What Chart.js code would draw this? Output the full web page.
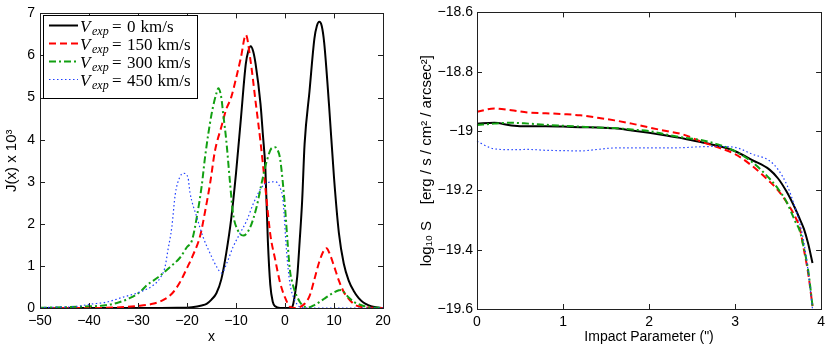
<!DOCTYPE html>
<html>
<head>
<meta charset="utf-8">
<script src="https://cdn.jsdelivr.net/npm/chart.js@4.4.0/dist/chart.umd.min.js"></script>
<style>
body { margin: 0; background: #fff; }
#wrap { position: relative; width: 830px; height: 348px; }
canvas { position: absolute; top: 0; }
</style>
</head>
<body>
<div id="wrap">
  <canvas id="left" width="415" height="348" style="left:0"></canvas>
  <canvas id="right" width="415" height="348" style="left:415px"></canvas>
</div>
<script>
// expansion velocities (km/s), one curve each
const speeds = [0, 150, 300, 450];

// left panel: J(x) x 10^3 against x
const jx0 = [-50,-30,-22,-19,-17,-16,-15,-14,-13,-12,-11,-10,-9,-8,-7.5,-7,-6.5,-6,-5,-4.5,-4,-3.5,-3,-2.5,-2,-1,0,1,1.5,2,2.5,3,3.5,4,5,6,6.5,7,7.5,8,9,10,11,12,13,14,15,16,17,18,20];
const jy0 = [0,0,0.005,0.02,0.06,0.1,0.2,0.35,0.68,1.3,2.1,3.2,4.5,5.8,6.1,6.22,6.1,5.8,4.85,4.1,3.3,1.6,0.55,0.15,0.04,0,0,0,0.03,0.3,0.75,1.6,2.55,3.9,5.15,6.4,6.7,6.8,6.7,6.3,4.8,3.1,1.78,1.05,0.65,0.41,0.24,0.13,0.07,0.03,0];

const jx150 = [-50,-40,-35,-30,-27,-25,-23,-21.5,-20,-18.8,-17.3,-16.3,-15.3,-14.3,-13,-12,-11,-10,-9,-8,-7,-6,-5,-4,-3,-2,-1,0,1,2,3,4,5,6,7,8,8.5,9,10,11,12,13,14,15,17,20];
const jy150 = [0,0,0.01,0.05,0.1,0.18,0.35,0.6,0.95,1.25,1.72,2.3,2.95,3.73,4.3,4.72,5.0,5.45,5.95,6.49,5.85,4.9,3.95,2.85,1.75,1.15,0.6,0.25,0.03,0,0.02,0.1,0.28,0.68,1.1,1.38,1.42,1.32,1.0,0.65,0.38,0.22,0.1,0.04,0.01,0];

const jx300 = [-50,-44.5,-40,-37.8,-34.3,-31.6,-29.6,-28.2,-25.9,-23.5,-21.4,-20,-19,-18,-17,-16.3,-15,-14,-13.6,-13,-12.6,-12,-11.2,-10.6,-9.6,-8.5,-7.1,-5.8,-4.8,-3.7,-2.7,-2,-1.5,-1,0,0.5,1,1.5,2,3,4,5,6,7,8,9,10,11,11.5,12,13,14,15,17,20];
const jy300 = [0.005,0.02,0.04,0.05,0.12,0.24,0.38,0.54,0.73,0.97,1.2,1.45,1.6,2.16,2.9,3.6,4.6,5.1,5.22,5.0,4.6,4.0,2.95,2.24,1.84,1.72,1.92,2.4,2.95,3.5,3.8,3.82,3.75,3.55,2.4,1.6,0.9,0.6,0.4,0.15,0.03,0.02,0.07,0.14,0.22,0.3,0.37,0.42,0.43,0.38,0.25,0.15,0.09,0.02,0];

const jx450 = [-50,-46.5,-43,-39.8,-36.4,-33,-29.6,-26.9,-25.5,-24.5,-23.9,-23.1,-22.4,-21.5,-20.7,-19.8,-19.4,-18,-16.7,-15.3,-13.9,-12.9,-11.9,-10.6,-9.2,-7.8,-6.5,-4.8,-3.5,-2,-1,-0.4,0.3,1,2,3.1,5,20];
const jy450 = [0.01,0.02,0.03,0.09,0.14,0.26,0.38,0.54,0.71,0.97,1.37,1.92,2.7,3.1,3.2,3.1,2.75,2.16,1.68,1.3,0.97,0.83,1.06,1.45,1.77,2.08,2.47,2.86,2.98,3.0,2.86,2.55,1.37,0.59,0.19,0.02,0,0];

// right panel: log10 S against impact parameter (")
const impact = [0,0.2,0.4,0.6,0.8,1.0,1.2,1.4,1.6,1.8,2.0,2.2,2.4,2.6,2.8,3.0,3.2,3.4,3.5,3.6,3.7,3.75,3.8,3.85,3.9];
const logS0   = [-18.975,-18.972,-18.981,-18.984,-18.984,-18.985,-18.987,-18.988,-18.991,-18.998,-19.006,-19.015,-19.025,-19.037,-19.05,-19.068,-19.098,-19.13,-19.16,-19.205,-19.262,-19.295,-19.33,-19.38,-19.445];
const logS150 = [-18.935,-18.924,-18.93,-18.938,-18.94,-18.943,-18.947,-18.955,-18.964,-18.975,-18.988,-19.0,-19.012,-19.035,-19.055,-19.078,-19.118,-19.17,-19.2,-19.24,-19.29,-19.325,-19.4,-19.48,-19.59];
const logS300 = [-18.98,-18.975,-18.972,-18.975,-18.979,-18.982,-18.985,-18.988,-18.99,-18.995,-19.0,-19.012,-19.022,-19.03,-19.045,-19.068,-19.105,-19.16,-19.195,-19.24,-19.305,-19.335,-19.395,-19.47,-19.59];
const logS450 = [-19.035,-19.06,-19.063,-19.062,-19.065,-19.066,-19.067,-19.062,-19.057,-19.057,-19.057,-19.057,-19.056,-19.053,-19.052,-19.055,-19.078,-19.1,-19.13,-19.18,-19.26,-19.31,-19.375,-19.475,-19.6];

const xTicksLeft = [-50,-40,-30,-20,-10,0,10,20];

const styles = [
  { color: '#000000', width: 2, dash: [] },
  { color: '#ff0000', width: 2, dash: [7, 4] },
  { color: '#12a012', width: 2, dash: [7, 3, 2, 3] },
  { color: '#2040ff', width: 1.2, dash: [1.5, 2.5] }
];

const minus = s => String(s).replace('-', '\u2212');
const pts = (xs, ys) => xs.map((x, i) => ({ x: x, y: ys[i] }));

function makeSets(pairs) {
  return pairs.map((p, i) => ({
    data: pts(p[0], p[1]),
    speed: speeds[i],
    borderColor: styles[i].color,
    borderWidth: styles[i].width,
    borderDash: styles[i].dash,
    pointRadius: 0,
    cubicInterpolationMode: 'monotone',
    fill: false,
    clip: 4,
    order: 3 - i
  }));
}

// box round the plot + inward ticks on all four sides
const framePlugin = {
  id: 'frame',
  afterDatasetsDraw(chart) {
    const { ctx, chartArea: a, scales } = chart;
    ctx.save();
    ctx.strokeStyle = '#202020';
    ctx.lineWidth = 1;
    ctx.setLineDash([]);
    ctx.strokeRect(Math.round(a.left) + 0.5, Math.round(a.top) + 0.5, Math.round(a.right - a.left), Math.round(a.bottom - a.top));
    ctx.beginPath();
    scales.x.ticks.forEach(t => {
      const px = Math.round(scales.x.getPixelForValue(t.value)) + 0.5;
      ctx.moveTo(px, a.bottom); ctx.lineTo(px, a.bottom - 5);
      ctx.moveTo(px, a.top); ctx.lineTo(px, a.top + 5);
    });
    scales.y.ticks.forEach(t => {
      const py = Math.round(scales.y.getPixelForValue(t.value)) + 0.5;
      ctx.moveTo(a.left, py); ctx.lineTo(a.left + 5, py);
      ctx.moveTo(a.right, py); ctx.lineTo(a.right - 5, py);
    });
    ctx.stroke();
    ctx.restore();
  }
};

// MATLAB-like legend with V_exp subscripts
const legendPlugin = {
  id: 'vlegend',
  afterDraw(chart) {
    const o = chart.options.plugins.vlegend;
    if (!o || !o.show) return;
    const ctx = chart.ctx;
    const x0 = 43, y0 = 15, w = 154, h = 83;
    ctx.save();
    ctx.fillStyle = '#fff';
    ctx.fillRect(x0, y0, w, h);
    ctx.strokeStyle = '#000';
    ctx.lineWidth = 1;
    ctx.strokeRect(x0 + 0.5, y0 + 0.5, w, h);
    chart.data.datasets.forEach((ds, i) => {
      const y = y0 + 10.5 + i * 18;
      ctx.beginPath();
      ctx.setLineDash(ds.borderDash);
      ctx.strokeStyle = ds.borderColor;
      ctx.lineWidth = ds.borderWidth;
      ctx.moveTo(x0 + 6, y); ctx.lineTo(x0 + 35, y);
      ctx.stroke();
      ctx.setLineDash([]);
      ctx.fillStyle = '#000';
      ctx.textBaseline = 'alphabetic';
      const base = y + 6;
      ctx.font = 'italic 17px "Liberation Serif"';
      ctx.fillText('V', x0 + 37, base);
      ctx.font = 'italic 12px "Liberation Serif"';
      ctx.fillText('exp', x0 + 49, base + 3);
      ctx.font = '17px "Liberation Serif"';
      ctx.fillText('=', x0 + 69, base);
      let tx = x0 + 84;
      ctx.fillText(String(ds.speed), tx, base);
      tx += ctx.measureText(String(ds.speed)).width + 5;
      ctx.fillText('km/s', tx, base);
    });
    ctx.restore();
  }
};

const tickFont = { family: '"Liberation Sans", Arial, sans-serif', size: 14 };
const yTitleFont = { family: '"Liberation Sans", Arial, sans-serif', size: 15 };

function axis(min, max, step, fmt, title, fitSize, horiz, pad, titlePad) {
  return {
    type: 'linear',
    min: min, max: max,
    grid: { display: false, drawTicks: false },
    border: { display: false },
    ticks: { stepSize: step, color: '#000', font: tickFont, padding: pad, callback: fmt, maxRotation: 0, autoSkip: false },
    title: { display: true, text: title, color: '#000', font: horiz ? tickFont : yTitleFont, padding: titlePad },
    afterFit(s) { if (horiz) s.height = fitSize; else s.width = fitSize; }
  };
}

Chart.defaults.animation = false;

new Chart(document.getElementById('left'), {
  type: 'line',
  data: { datasets: makeSets([[jx0, jy0], [jx150, jy150], [jx300, jy300], [jx450, jy450]]) },
  options: {
    responsive: false,
    devicePixelRatio: 1,
    layout: { padding: { top: 12, right: 32, left: 0, bottom: 0 } },
    plugins: { legend: { display: false }, tooltip: { enabled: false }, vlegend: { show: true } },
    scales: {
      x: Object.assign(axis(-50, 20, 10, v => minus(v), 'x', 40, true, 5, { top: 0, bottom: 2 }),
        { afterBuildTicks(s) { s.ticks = xTicksLeft.map(v => ({ value: v })); } }),
      y: axis(0, 7, 1, v => String(v), 'J(x) x 10\u00b3', 40, false, 5, { top: 3, bottom: 0 })
    }
  },
  plugins: [framePlugin, legendPlugin]
});

new Chart(document.getElementById('right'), {
  type: 'line',
  data: { datasets: makeSets([[impact, logS0], [impact, logS150], [impact, logS300], [impact, logS450]]) },
  options: {
    responsive: false,
    devicePixelRatio: 1,
    layout: { padding: { top: 12, right: 8, left: 0, bottom: 0 } },
    plugins: { legend: { display: false }, tooltip: { enabled: false } },
    scales: {
      x: axis(0, 4, 1, v => String(v), 'Impact Parameter (")', 39, true, 5, { top: 0, bottom: 2 }),
      y: axis(-19.6, -18.6, 0.2, v => minus(Number(v.toFixed(1))), 'log\u2081\u2080 S    [erg / s / cm\u00b2 / arcsec\u00b2]', 62, false, 4, { top: 3, bottom: 0 })
    }
  },
  plugins: [framePlugin]
});
</script>
</body>
</html>
